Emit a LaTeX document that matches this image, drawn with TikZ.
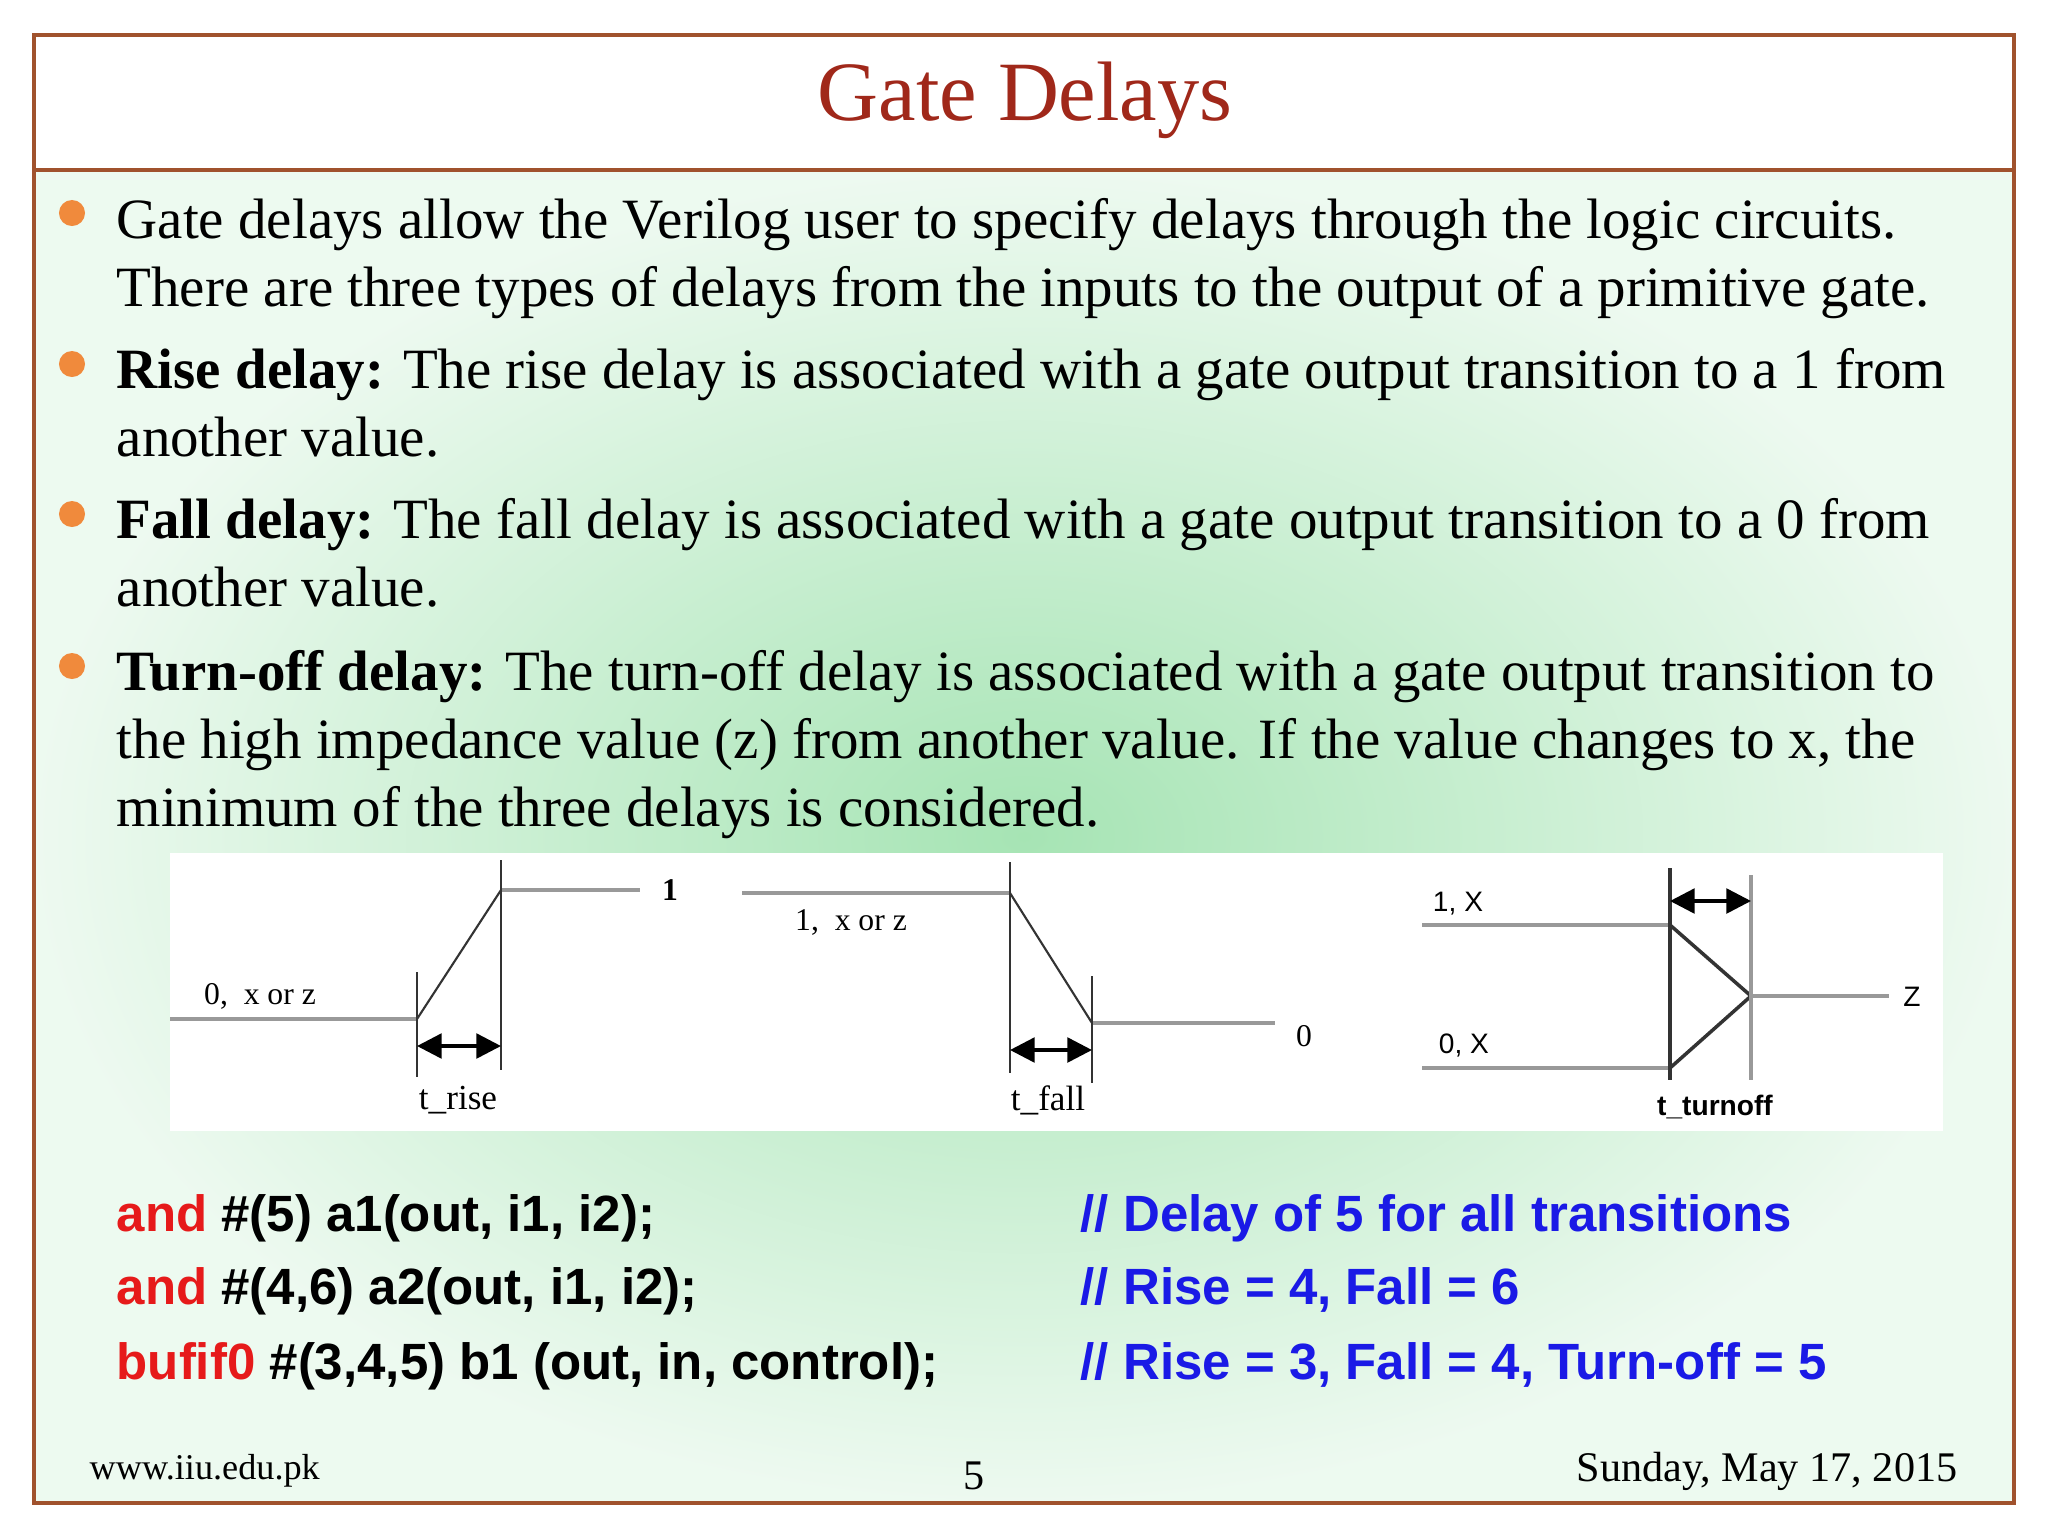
\documentclass[tikz,border=0pt]{standalone}
\usepackage{fontspec}
\setmainfont{Liberation Serif}
\setsansfont{Liberation Sans}
\newfontfamily\narrowf{Liberation Serif}
\usetikzlibrary{arrows.meta}
\definecolor{titlered}{HTML}{A0281A}
\definecolor{bul}{HTML}{F08A3C}
\definecolor{frame}{HTML}{A0522D}
\definecolor{codeblue}{HTML}{1A1AE6}
\definecolor{codered}{HTML}{E61A1A}
\definecolor{mint}{HTML}{A6E4B4}
\begin{document}
\begin{tikzpicture}[x=0.01cm,y=-0.01cm,
  body/.style={anchor=base west,inner sep=0,font=\fontsize{16.2}{18}\selectfont},
  bullet/.style={circle,fill=bul,inner sep=0,minimum size=0.26cm},
  code/.style={anchor=base west,inner sep=0,font=\sffamily\bfseries\fontsize{14.5}{16}\selectfont},
  wlab/.style={inner sep=0,font=\narrowf\fontsize{9}{10}\selectfont},
  glin/.style={draw=gray!80,line width=1.4pt},
  thin/.style={draw=black!80,line width=0.6pt},
  dim/.style={{Triangle[length=7pt,width=7pt]}-{Triangle[length=7pt,width=7pt]},line width=1pt},
  foot/.style={anchor=base,inner sep=0,font=\fontsize{10.3}{12}\selectfont}]
\useasboundingbox (0,0) rectangle (2048,1536);
\fill[white] (0,0) rectangle (2048,1536);
\shade[inner color=mint,outer color=mint!20!white] (34,170) rectangle (2014,1503);
\draw[frame,line width=1pt] (34,35) rectangle (2014,1503);
\draw[frame,line width=1pt] (34,170) -- (2014,170);
\node[titlered,font=\fontsize{24}{28}\selectfont] (title) at (1025,100) {Gate Delays};
% bullets
\node[bullet] (b1) at (72,213) {};
\node[bullet] (b2) at (72,364) {};
\node[bullet] (b3) at (72,514) {};
\node[bullet] (b4) at (72,666) {};
\node[body] (l1) at (116,238) {Gate delays allow the Verilog user to specify delays through the logic circuits.};
\node[body] (l2) at (116,306) {There are three types of delays from the inputs to the output of a primitive gate.};
\node[body] (l3) at (116,388) {\textbf{Rise delay:} The rise delay is associated with a gate output transition to a 1 from};
\node[body] (l4) at (116,456) {another value.};
\node[body] (l5) at (116,538) {\textbf{Fall delay:} The fall delay is associated with a gate output transition to a 0 from};
\node[body] (l6) at (116,606) {another value.};
\node[body] (l7) at (116,690) {\textbf{Turn-off delay:} The turn-off delay is associated with a gate output transition to};
\node[body] (l8) at (116,758) {the high impedance value (z) from another value. If the value changes to x, the};
\node[body] (l9) at (116,826) {minimum of the three delays is considered.};
% diagram
\fill[white] (170,853) rectangle (1943,1131);
% rise
\coordinate (r0) at (170,1019); \coordinate (r1) at (417,1019);
\coordinate (r2) at (501,890); \coordinate (r3) at (640,890);
\draw[glin] (r0) -- (r1);
\draw[thin] (r1) -- (r2);
\draw[glin] (r2) -- (r3);
\coordinate (rv1a) at (417,972); \coordinate (rv1b) at (417,1077);
\coordinate (rv2a) at (501,860); \coordinate (rv2b) at (501,1070);
\draw[thin] (rv1a) -- (rv1b); \draw[thin] (rv2a) -- (rv2b);
\coordinate (ra1) at (417,1046); \coordinate (ra2) at (501,1046);
\draw[dim] (ra1) -- (ra2);
\node[wlab] (rl1) at (670,890) {\textbf{1}};
\node[wlab] (rl0) at (260,996) {0,\ \ x or z};
\node[wlab,font=\fontsize{10}{11}\selectfont] (rlt) at (458,1100) {t\_rise};
% fall
\coordinate (f0) at (742,893); \coordinate (f1) at (1010,893);
\coordinate (f2) at (1092,1023); \coordinate (f3) at (1275,1023);
\draw[glin] (f0) -- (f1);
\draw[thin] (f1) -- (f2);
\draw[glin] (f2) -- (f3);
\coordinate (fv1a) at (1010,862); \coordinate (fv1b) at (1010,1073);
\coordinate (fv2a) at (1092,976); \coordinate (fv2b) at (1092,1083);
\draw[thin] (fv1a) -- (fv1b); \draw[thin] (fv2a) -- (fv2b);
\coordinate (fa1) at (1010,1050); \coordinate (fa2) at (1092,1050);
\draw[dim] (fa1) -- (fa2);
\node[wlab] (fl0) at (1304,1036) {0};
\node[wlab] (fl1) at (851,922) {1,\ \ x or z};
\node[wlab,font=\fontsize{10}{11}\selectfont] (flt) at (1048,1100) {t\_fall};
% turnoff
\coordinate (t0) at (1422,925); \coordinate (t1) at (1670,925);
\coordinate (u0) at (1422,1068); \coordinate (u1) at (1670,1068);
\coordinate (tz) at (1751,996); \coordinate (tz2) at (1889,996);
\draw[glin] (t0) -- (t1);
\draw[glin] (u0) -- (u1);
\draw[thin,line width=1pt] (t1) -- (tz) -- (u1);
\draw[glin,line width=1pt] (tz) -- (tz2);
\coordinate (tv1a) at (1670,868); \coordinate (tv1b) at (1670,1080);
\coordinate (tv2a) at (1751,875); \coordinate (tv2b) at (1751,1080);
\draw[thin,line width=1pt] (tv1a) -- (tv1b); \draw[glin,line width=1pt] (tv2a) -- (tv2b);
\coordinate (ta1) at (1670,901); \coordinate (ta2) at (1751,901);
\draw[dim] (ta1) -- (ta2);
\node[wlab,font=\sffamily\fontsize{8}{9}\selectfont] (tl1) at (1458,904) {1, X};
\node[wlab,font=\sffamily\fontsize{8}{9}\selectfont] (tl0) at (1464,1045) {0, X};
\node[wlab,font=\sffamily\fontsize{8}{9}\selectfont] (tlz) at (1912,997) {Z};
\node[wlab,font=\sffamily\bfseries\fontsize{8}{9}\selectfont] (tlt) at (1715,1107) {t\_turnoff};
% code
\node[code] (c1) at (116,1231) {\textcolor{codered}{and} \#(5) a1(out, i1, i2);};
\node[code] (c2) at (116,1304) {\textcolor{codered}{and} \#(4,6) a2(out, i1, i2);};
\node[code] (c3) at (116,1379) {\textcolor{codered}{bufif0} \#(3,4,5) b1 (out, in, control);};
\node[code,codeblue] (d1) at (1080,1231) {// Delay of 5 for all transitions};
\node[code,codeblue] (d2) at (1080,1304) {// Rise = 4, Fall = 6};
\node[code,codeblue] (d3) at (1080,1379) {// Rise = 3, Fall = 4, Turn-off = 5};
% footer
\node[foot,anchor=base west] (w) at (89,1479) {www.iiu.edu.pk};
\node[foot,font=\fontsize{12}{13}\selectfont] (pg) at (974,1489) {5};
\node[foot,anchor=base east,font=\fontsize{12}{13}\selectfont] (dt) at (1958,1481) {Sunday, May 17, 2015};
\end{tikzpicture}
\end{document}
